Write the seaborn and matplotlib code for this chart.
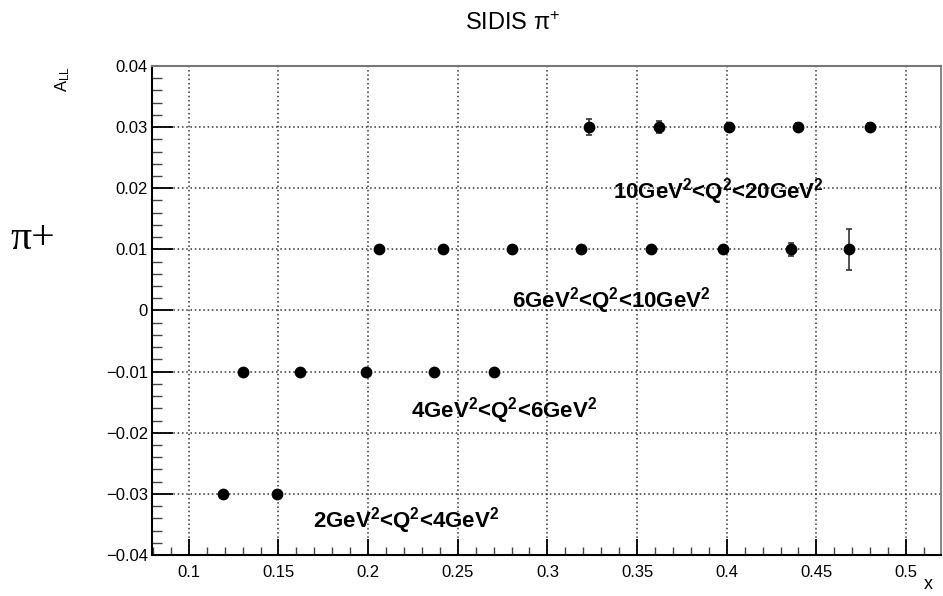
import numpy as np
import pandas as pd
import matplotlib
matplotlib.use("Agg")
import matplotlib.pyplot as plt
from matplotlib.ticker import MultipleLocator, FixedLocator
import seaborn as sns

# Q^2 bins: x positions, asymmetry values and statistical errors
x_q2_2_4 = [0.119, 0.149]
a_q2_2_4 = [-0.03, -0.03]
e_q2_2_4 = [0.0003, 0.0003]

x_q2_4_6 = [0.130, 0.162, 0.199, 0.237, 0.270]
a_q2_4_6 = [-0.01, -0.01, -0.01, -0.01, -0.01]
e_q2_4_6 = [0.0003, 0.0003, 0.0003, 0.0003, 0.0004]

x_q2_6_10 = [0.206, 0.242, 0.280, 0.319, 0.358, 0.398, 0.436, 0.468]
a_q2_6_10 = [0.01, 0.01, 0.01, 0.01, 0.01, 0.01, 0.01, 0.01]
e_q2_6_10 = [0.0003, 0.0003, 0.0003, 0.0003, 0.0004, 0.0005, 0.0011, 0.0033]

x_q2_10_20 = [0.323, 0.362, 0.401, 0.440, 0.480]
a_q2_10_20 = [0.03, 0.03, 0.03, 0.03, 0.03]
e_q2_10_20 = [0.0013, 0.0010, 0.0007, 0.0006, 0.0006]

bin_labels = [
    r"2GeV$^{\mathbf{2}}$<Q$^{\mathbf{2}}$<4GeV$^{\mathbf{2}}$",
    r"4GeV$^{\mathbf{2}}$<Q$^{\mathbf{2}}$<6GeV$^{\mathbf{2}}$",
    r"6GeV$^{\mathbf{2}}$<Q$^{\mathbf{2}}$<10GeV$^{\mathbf{2}}$",
    r"10GeV$^{\mathbf{2}}$<Q$^{\mathbf{2}}$<20GeV$^{\mathbf{2}}$",
]
label_x = [0.1695, 0.2242, 0.2805, 0.3368]
label_y = [-0.0343, -0.0163, 0.0017, 0.0194]

x_ticks = [0.1, 0.15, 0.2, 0.25, 0.3, 0.35, 0.4, 0.45, 0.5]
x_tick_labels = ["0.1", "0.15", "0.2", "0.25", "0.3", "0.35", "0.4", "0.45", "0.5"]
y_ticks = [-0.04, -0.03, -0.02, -0.01, 0.0, 0.01, 0.02, 0.03, 0.04]
y_tick_labels = ["\u22120.04", "\u22120.03", "\u22120.02", "\u22120.01", "0",
                 "0.01", "0.02", "0.03", "0.04"]

sns.set_theme(style="white")
plt.rcParams["font.family"] = ["Liberation Sans", "DejaVu Sans"]
plt.rcParams["mathtext.fontset"] = "custom"
plt.rcParams["mathtext.rm"] = "Liberation Sans"
plt.rcParams["mathtext.it"] = "Liberation Sans:italic"
plt.rcParams["mathtext.bf"] = "Liberation Sans:bold"
for key in ["text.color", "axes.labelcolor", "xtick.color", "ytick.color",
            "xtick.labelcolor", "ytick.labelcolor"]:
    plt.rcParams[key] = "black"

frames = []
for xs, ys, es, name in [
    (x_q2_2_4, a_q2_2_4, e_q2_2_4, "2-4"),
    (x_q2_4_6, a_q2_4_6, e_q2_4_6, "4-6"),
    (x_q2_6_10, a_q2_6_10, e_q2_6_10, "6-10"),
    (x_q2_10_20, a_q2_10_20, e_q2_10_20, "10-20"),
]:
    frames.append(pd.DataFrame({"x": xs, "A_LL": ys, "err": es, "bin": name}))
df = pd.concat(frames, ignore_index=True)

fig = plt.figure(figsize=(9.43, 5.96), dpi=100)
ax = fig.add_axes([0.1612, 0.0688, 0.8367, 0.8205])

# grid
ax.grid(True, which="major", linestyle=(0, (1, 1.8)), color="#333333", linewidth=1.1)
ax.set_axisbelow(True)

# error bars then markers
ax.errorbar(df["x"], df["A_LL"], yerr=df["err"], fmt="none", ecolor="#333333",
            elinewidth=1.2, capsize=2.5, capthick=1.2, zorder=3)
sns.scatterplot(data=df, x="x", y="A_LL", ax=ax, color="black", s=72,
                edgecolor="black", linewidth=0, legend=False, zorder=4)

for txt, lx, ly in zip(bin_labels, label_x, label_y):
    ax.text(lx, ly, txt, fontsize=16, fontweight="bold", ha="left",
            va="center", color="black")

ax.set_xlim(0.0795, 0.5195)
ax.set_ylim(-0.04, 0.04)

ax.xaxis.set_major_locator(FixedLocator(x_ticks))
ax.set_xticklabels(x_tick_labels)
ax.xaxis.set_minor_locator(MultipleLocator(0.01))
ax.yaxis.set_major_locator(FixedLocator(y_ticks))
ax.set_yticklabels(y_tick_labels)
ax.yaxis.set_minor_locator(MultipleLocator(0.002))

ax.tick_params(axis="x", which="major", direction="in", length=11.5, width=1.3,
               labelsize=12, pad=7, color="black", bottom=True, top=False)
ax.tick_params(axis="x", which="minor", direction="in", length=6, width=1.0,
               color="#444444", bottom=True, top=False)
ax.tick_params(axis="y", which="major", direction="in", length=15, width=1.3,
               labelsize=12, pad=3, color="black", left=True, right=False)
ax.tick_params(axis="y", which="minor", direction="in", length=7.5, width=1.0,
               color="#444444", left=True, right=False)

for side in ["left", "bottom"]:
    ax.spines[side].set_color("black")
    ax.spines[side].set_linewidth(1.5)
ax.spines["right"].set_color("#888888")
ax.spines["right"].set_linewidth(1.5)
ax.spines["top"].set_color("#777777")
ax.spines["top"].set_linestyle((0, (1, 1)))
ax.spines["top"].set_linewidth(1.5)

ax.set_xlabel("x", fontsize=13, ha="right", va="center")
ax.xaxis.set_label_coords(0.99, -0.06)
ax.set_ylabel(r"A$_{\mathrm{LL}}$", fontsize=12, ha="right")
ax.yaxis.set_label_coords(-0.102, 1.0)

fig.text(0.544, 0.96, r"SIDIS π$^{+}$", fontsize=17, ha="center", va="center",
         color="black")
fig.text(0.011, 0.600, "π+", fontsize=30, ha="left", va="center",
         family=["Liberation Serif", "DejaVu Serif"], color="black")

fig.savefig("out.png", dpi=100)
